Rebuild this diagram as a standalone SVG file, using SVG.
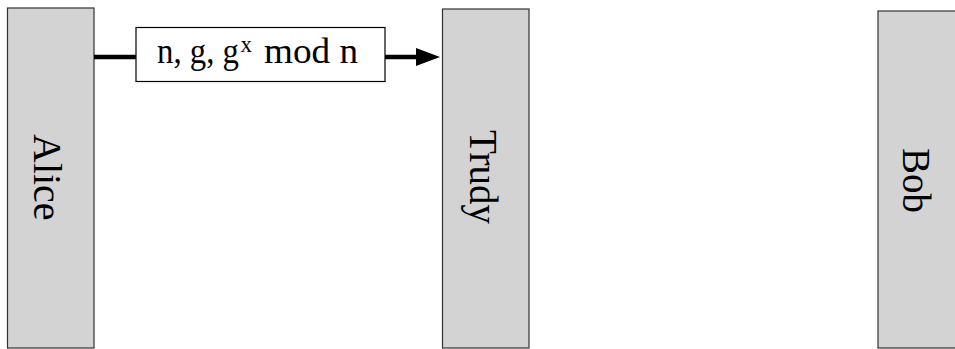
<svg xmlns="http://www.w3.org/2000/svg" width="955" height="349" viewBox="0 0 955 349">
  <style>
    .party { fill: #d3d3d3; stroke: #333333; stroke-width: 1.2; }
    .plabel { font-family: "Liberation Serif", "Times New Roman", serif; font-size: 40px; fill: #000000; }
    .msgbox { fill: #ffffff; stroke: #000000; stroke-width: 1.2; }
    .msg { font-family: "Liberation Serif", "Times New Roman", serif; font-size: 35px; fill: #000000; }
    .conn { stroke: #000000; stroke-width: 4.5; fill: none; }
  </style>
  <defs>
    <marker id="arrow" markerUnits="userSpaceOnUse" viewBox="0 0 24 18" markerWidth="24" markerHeight="18" refX="0" refY="9" orient="auto">
      <path d="M0,0 L24,9 L0,18 Z" fill="#000000"/>
    </marker>
  </defs>
  <rect width="955" height="349" fill="#ffffff"/>

  <g id="alice">
    <rect class="party" x="7.5" y="8" width="86.5" height="340"/>
    <text class="plabel" transform="translate(34,134) rotate(90)" x="0" y="0">Alice</text>
  </g>

  <g id="trudy">
    <rect class="party" x="442.5" y="9" width="86.5" height="339"/>
    <text class="plabel" transform="translate(470,130) rotate(90)" x="0" y="0" textLength="94" lengthAdjust="spacingAndGlyphs">Trudy</text>
  </g>

  <g id="bob">
    <rect class="party" x="878" y="11" width="100" height="337"/>
    <text class="plabel" transform="translate(903,148) rotate(90)" x="0" y="0" textLength="65" lengthAdjust="spacingAndGlyphs">Bob</text>
  </g>

  <g id="connectors">
    <line class="conn" x1="94" y1="57" x2="416" y2="57" marker-end="url(#arrow)"/>
  </g>

  <g id="message">
    <rect class="msgbox" x="136" y="27.5" width="249" height="54"/>
    <text class="msg" y="63"><tspan x="157" textLength="82" lengthAdjust="spacingAndGlyphs">n, g, g</tspan><tspan x="240.5" y="52" font-size="23">x</tspan><tspan x="264" y="63" textLength="94" lengthAdjust="spacingAndGlyphs">mod n</tspan></text>
  </g>
</svg>
